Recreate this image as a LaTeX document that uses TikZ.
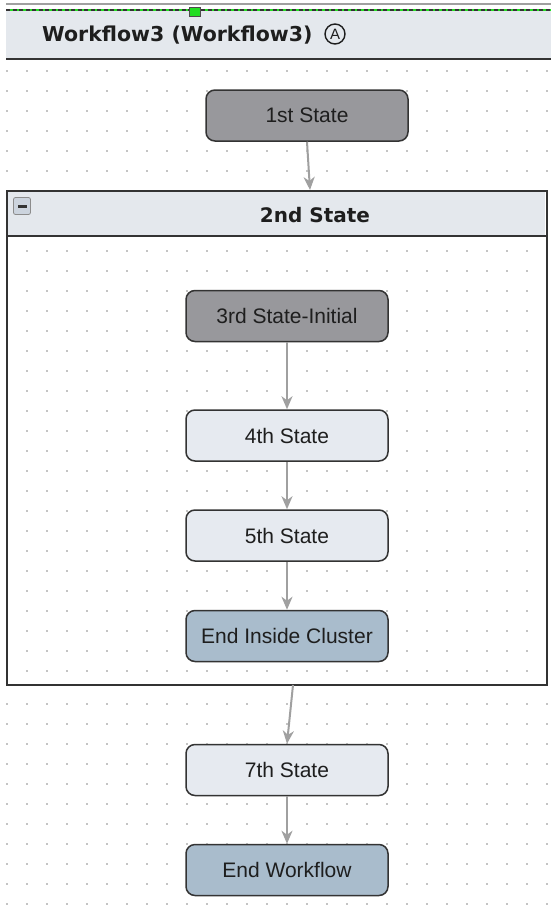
\documentclass[tikz,border=0pt]{standalone}
\usepackage{fontspec}
\setmainfont{Liberation Sans}
\newfontfamily\hdrfont{DejaVu Sans}
\usetikzlibrary{arrows.meta}
\definecolor{bandgray}{HTML}{E4E8ED}
\definecolor{darkfill}{HTML}{98989C}
\definecolor{lightfill}{HTML}{E6EAF0}
\definecolor{bluefill}{HTML}{A9BCCC}
\definecolor{edgecol}{HTML}{333333}
\definecolor{arrcol}{HTML}{A0A0A0}
\definecolor{dotcol}{HTML}{C4C4C4}
\definecolor{txtcol}{HTML}{1E1E1E}
\definecolor{greenmark}{HTML}{22DD22}
\definecolor{iconfill}{HTML}{CCD4DE}
\tikzset{
  statebox/.style={draw=edgecol, line width=1.5pt, rounded corners=9pt,
    minimum width=202pt, minimum height=51pt, inner sep=0pt,
    text=txtcol, font=\fontsize{21}{25}\selectfont},
  darkstate/.style={statebox, fill=darkfill},
  lightstate/.style={statebox, fill=lightfill},
  endstate/.style={statebox, fill=bluefill},
  arr/.style={draw=arrcol, line width=2pt,
    -{Stealth[length=13pt,width=11pt,inset=4pt,fill=arrcol]}},
  dotmark/.style={fill=dotcol, draw=none},
  hdrtext/.style={text=txtcol, inner sep=0pt, font=\hdrfont\bfseries\fontsize{20.5}{24}\selectfont}
}
\begin{document}
\begin{tikzpicture}[x=1pt,y=-1pt]
\useasboundingbox (0,0) rectangle (551,908);
\fill[white] (0,0) rectangle (551,908);
% grid dots
\foreach \yy in {71,91,...,171} {\foreach \xx in {7,27,...,547} {\fill[dotmark] (\xx-1,\yy-1) rectangle (\xx+1,\yy+1);}}
\foreach \yy in {251,271,...,671} {\foreach \xx in {27,47,...,527} {\fill[dotmark] (\xx-1,\yy-1) rectangle (\xx+1,\yy+1);}}
\foreach \yy in {704,724,...,904} {\foreach \xx in {7,27,...,547} {\fill[dotmark] (\xx-1,\yy-1) rectangle (\xx+1,\yy+1);}}
% workflow header
\draw[arrcol, line width=2pt] (6,4) -- (551,4);
\fill[bandgray] (6,10) rectangle (551,58);
\draw[greenmark, line width=1.5pt] (6,10) -- (551,10);
\draw[black!80, line width=1.5pt, dash pattern=on 4pt off 2.5pt] (6,10) -- (551,10);
\draw[edgecol, line width=2.5pt] (6,59) -- (551,59);
\node[draw=black!70, fill=greenmark, line width=0.8pt, minimum width=11pt, minimum height=9pt, inner sep=0pt] (sel) at (195,11.5) {};
\node[hdrtext, anchor=base west] (wtitle) at (42,41) {Workflow3 (Workflow3)};
\node[circle, draw=txtcol, line width=1.4pt, minimum size=20pt, inner sep=0pt, text=txtcol, font=\fontsize{15}{17}\selectfont] (amark) at (335,34) {A};
% cluster
\fill[bandgray] (8,191) rectangle (545,235.5);
\draw[edgecol, line width=1.5pt] (7,236) -- (546,236);
\node[draw=edgecol, line width=2pt, minimum width=540pt, minimum height=494pt, inner sep=0pt] (c2) at (277,437.5) {};
\node[draw=black!45, fill=iconfill, line width=0.8pt, rounded corners=2pt, minimum width=17pt, minimum height=17pt, inner sep=0pt] (minus) at (22,206) {};
\fill[edgecol] (17.5,205) rectangle (26.5,207.5);
\node[hdrtext, font=\hdrfont\bfseries\fontsize{20}{24}\selectfont, anchor=base] (c2title) at (315,222) {2nd State};
% states
\node[darkstate] (s1) at (307,115.5) {1st State};
\node[darkstate] (s3) at (287,316) {3rd State-Initial};
\node[lightstate] (s4) at (287,435.5) {4th State};
\node[lightstate] (s5) at (287,535.5) {5th State};
\node[endstate] (s6) at (287,636) {End Inside Cluster};
\node[lightstate] (s7) at (287,770) {7th State};
\node[endstate] (s8) at (287,870) {End Workflow};
\coordinate (c2in) at (310,190);
\coordinate (c2out) at (293,685);
% connectors
\draw[arr] (s1.south) -- (c2in);
\draw[arr] (s3.south) -- (s4.north);
\draw[arr] (s4.south) -- (s5.north);
\draw[arr] (s5.south) -- (s6.north);
\draw[arr] (c2out) -- (s7.north);
\draw[arr] (s7.south) -- (s8.north);
\end{tikzpicture}
\end{document}
